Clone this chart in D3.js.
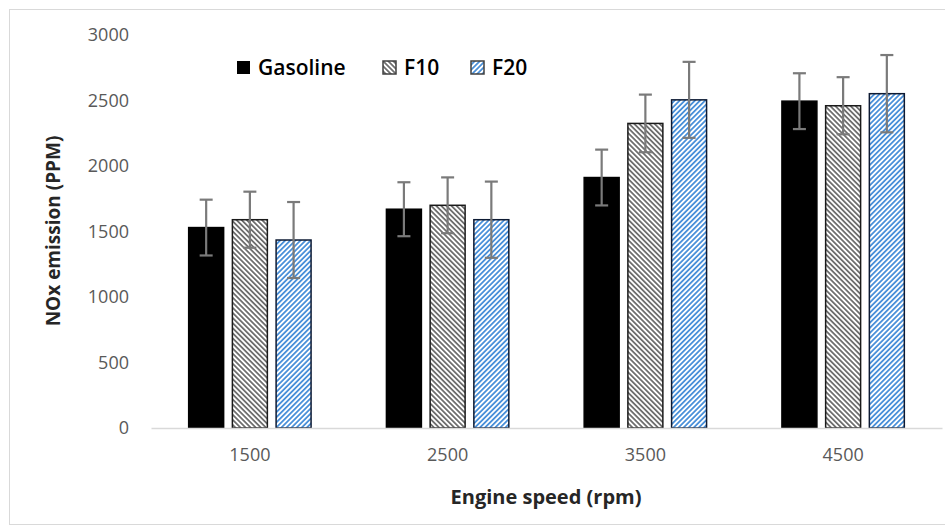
<!DOCTYPE html>
<meta charset="utf-8">
<style>
  body { margin: 0; background: #fff; }
  svg { display: block; font-family: "Open Sans", "Liberation Sans", sans-serif; }
</style>
<svg id="chart" width="945" height="532"></svg>
<script src="https://cdn.jsdelivr.net/npm/d3@7"></script>
<script>
  var categories = ["1500", "2500", "3500", "4500"];
  var seriesNames = ["Gasoline", "F10", "F20"];
  var gasoline = [1530, 1670, 1912, 2495];
  var f10 = [1590, 1700, 2325, 2460];
  var f20 = [1435, 1590, 2505, 2552];
  var gasolineErr = [213, 206, 213, 213];
  var f10Err = [214, 213, 220, 218];
  var f20Err = [290, 291, 290, 295];
  var yTicks = [0, 500, 1000, 1500, 2000, 2500, 3000];

  var svg = d3.select("#chart");

  // outer chart frame
  svg.append("rect")
    .attr("x", 9.5).attr("y", 9.5)
    .attr("width", 945).attr("height", 515)
    .attr("fill", "#fff").attr("stroke", "#d9d9d9");

  // hatch patterns
  var defs = svg.append("defs");
  function hatch(id, color, angle) {
    var p = defs.append("pattern")
      .attr("id", id)
      .attr("patternUnits", "userSpaceOnUse")
      .attr("width", 3.6).attr("height", 10)
      .attr("patternTransform", "rotate(" + angle + ")");
    p.append("rect").attr("width", 3.6).attr("height", 10).attr("fill", "#fff");
    p.append("rect").attr("width", 1.8).attr("height", 10).attr("fill", color);
  }
  hatch("hatchF10", "#6f6f6f", -45);
  hatch("hatchF20", "#4a90d9", 45);

  var styles = {
    "Gasoline": { fill: "#000", stroke: "#000" },
    "F10": { fill: "url(#hatchF10)", stroke: "#1a1a1a" },
    "F20": { fill: "url(#hatchF20)", stroke: "#0d1a33" }
  };

  var x = d3.scaleBand().domain(categories).range([151, 942]);
  var xInner = d3.scaleBand().domain(seriesNames).range([-61.2, 61.2]).paddingInner(0.2);
  var y = d3.scaleLinear().domain([0, 3000]).range([428, 35]);

  var rows = [];
  var values = { "Gasoline": gasoline, "F10": f10, "F20": f20 };
  var errs = { "Gasoline": gasolineErr, "F10": f10Err, "F20": f20Err };
  categories.forEach(function (c, i) {
    seriesNames.forEach(function (s) {
      rows.push({ cat: c, series: s, value: values[s][i], err: errs[s][i] });
    });
  });

  // y axis labels (no line)
  var yAxis = d3.axisLeft(y).tickValues(yTicks).tickFormat(d3.format("d")).tickSize(0).tickPadding(0);
  var gy = svg.append("g").attr("transform", "translate(129,0)").call(yAxis);
  gy.select(".domain").remove();
  gy.selectAll("text").attr("font-size", 18).attr("fill", "#595959")
    .attr("font-family", "'Open Sans', sans-serif");

  // bars
  var bx = function (d) { return x(d.cat) + x.bandwidth() / 2 + xInner(d.series); };
  svg.append("g").selectAll("rect").data(rows).join("rect")
    .attr("x", bx)
    .attr("y", function (d) { return y(d.value); })
    .attr("width", xInner.bandwidth())
    .attr("height", function (d) { return y(0) - y(d.value); })
    .attr("fill", function (d) { return styles[d.series].fill; })
    .attr("stroke", function (d) { return styles[d.series].stroke; })
    .attr("stroke-width", 1.5);

  // x axis
  var xAxis = d3.axisBottom(x).tickSize(0).tickPadding(0);
  var gx = svg.append("g").attr("transform", "translate(0,428)").call(xAxis);
  gx.select(".domain").attr("stroke", "#d9d9d9").attr("stroke-width", 1.5);
  gx.selectAll("text").attr("font-size", 18).attr("fill", "#595959")
    .attr("dy", "1.85em")
    .attr("font-family", "'Open Sans', sans-serif");

  // error bars
  var eg = svg.append("g").attr("stroke", "#7a7a7a").attr("stroke-width", 2.2);
  var cx = function (d) { return bx(d) + xInner.bandwidth() / 2; };
  eg.selectAll("line.v").data(rows).join("line").attr("class", "v")
    .attr("x1", cx).attr("x2", cx)
    .attr("y1", function (d) { return y(d.value + d.err); })
    .attr("y2", function (d) { return y(d.value - d.err); });
  eg.selectAll("line.t").data(rows).join("line").attr("class", "t")
    .attr("x1", function (d) { return cx(d) - 6.5; })
    .attr("x2", function (d) { return cx(d) + 6.5; })
    .attr("y1", function (d) { return y(d.value + d.err); })
    .attr("y2", function (d) { return y(d.value + d.err); });
  eg.selectAll("line.b").data(rows).join("line").attr("class", "b")
    .attr("x1", function (d) { return cx(d) - 6.5; })
    .attr("x2", function (d) { return cx(d) + 6.5; })
    .attr("y1", function (d) { return y(d.value - d.err); })
    .attr("y2", function (d) { return y(d.value - d.err); });

  // axis titles
  svg.append("text")
    .attr("transform", "translate(60,231) rotate(-90)")
    .attr("text-anchor", "middle")
    .attr("font-size", 19).attr("font-weight", "bold").attr("fill", "#262626")
    .text("NOx emission (PPM)");
  svg.append("text")
    .attr("x", 546).attr("y", 504)
    .attr("text-anchor", "middle")
    .attr("font-size", 20).attr("font-weight", "bold").attr("fill", "#262626")
    .text("Engine speed (rpm)");

  // legend
  var legendX = [237, 383, 471];
  var lg = svg.append("g");
  seriesNames.forEach(function (s, i) {
    lg.append("rect")
      .attr("x", legendX[i]).attr("y", 61)
      .attr("width", 13).attr("height", 13)
      .attr("fill", styles[s].fill)
      .attr("stroke", s === "Gasoline" ? "none" : "#404040")
      .attr("stroke-width", 1.5);
    lg.append("text")
      .attr("x", legendX[i] + 21).attr("y", 75)
      .attr("font-size", 21).attr("font-weight", 600).attr("fill", "#000")
      .text(s);
  });
</script>
